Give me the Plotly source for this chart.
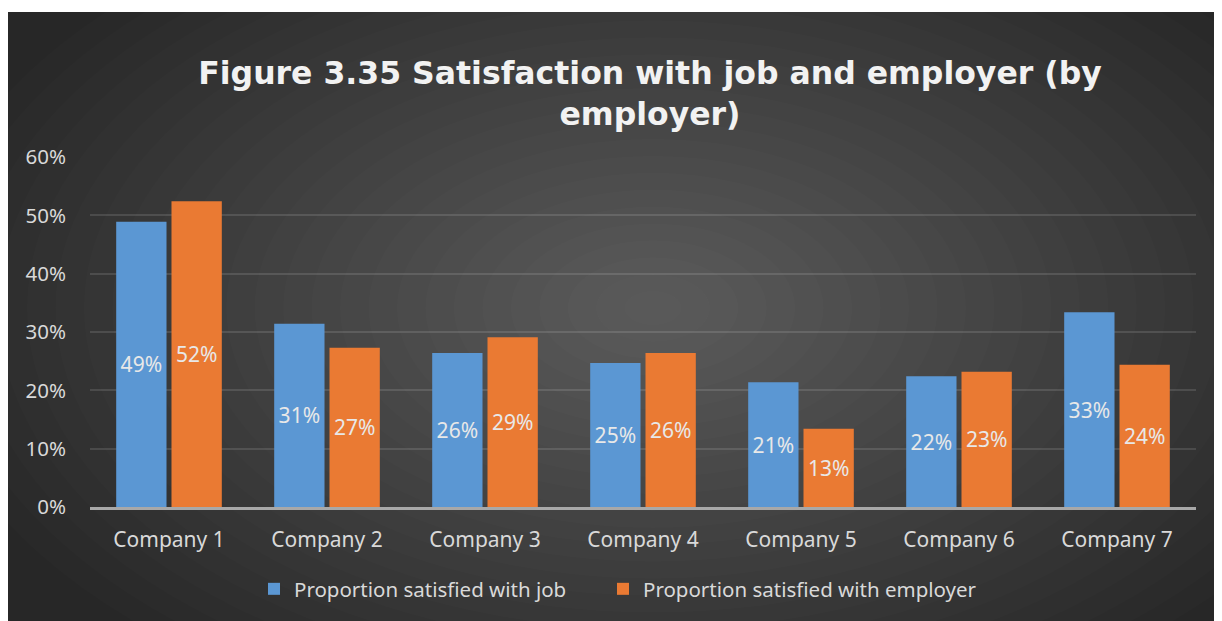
import plotly.graph_objects as go

categories = ["Company 1", "Company 2", "Company 3", "Company 4", "Company 5", "Company 6", "Company 7"]
job = [0.489, 0.314, 0.264, 0.247, 0.214, 0.224, 0.334]
employer = [0.524, 0.273, 0.291, 0.264, 0.134, 0.232, 0.244]
series_names = ["Proportion satisfied with job", "Proportion satisfied with employer"]
title_text = "Figure 3.35 Satisfaction with job and employer (by<br>employer)"
y_ticks = [0, 0.1, 0.2, 0.3, 0.4, 0.5, 0.6]

W, H = 1222, 621
ML, MR, MT, MB = 82, 34, 149, 122
PW, PH = W - ML - MR, H - MT - MB


def px(x):
    return (x - ML) / PW


def py(y):
    return (H - MB - y) / PH


FONT = "Noto Sans"
fig = go.Figure()
fig.add_trace(go.Bar(
    x=categories, y=job, name=series_names[0], legend="legend",
    marker=dict(color="#5b97d3", line=dict(width=0)),
    texttemplate="%{y:.0%}", textposition="inside", insidetextanchor="middle",
    textfont=dict(family=FONT, size=21, color="#e8e8e8"), textangle=0,
))
fig.add_trace(go.Bar(
    x=categories, y=employer, name=series_names[1], legend="legend2",
    marker=dict(color="#ea7a33", line=dict(width=0)),
    texttemplate="%{y:.0%}", textposition="inside", insidetextanchor="middle",
    textfont=dict(family=FONT, size=21, color="#e8e8e8"), textangle=0,
))

shapes = [dict(type="rect", xref="paper", yref="paper", layer="below",
               x0=px(0), x1=px(W + 5), y0=py(H + 5), y1=py(4),
               fillcolor="#272727", line=dict(width=0))]
cx, cy = 645, 300
N = 26
for i in range(N):
    f = 1 - i / N
    rx, ry = 740 * f, 440 * f
    shapes.append(dict(type="circle", xref="paper", yref="paper", layer="below",
                       x0=px(cx - rx), x1=px(cx + rx), y0=py(cy + ry), y1=py(cy - ry),
                       fillcolor="rgba(255,255,255,0.01)", line=dict(width=0)))

leg_common = dict(orientation="h", xanchor="left", y=py(581), yanchor="middle",
                  font=dict(family=FONT, size=20.5, color="#d9d9d9"), bgcolor="rgba(0,0,0,0)",
                  itemwidth=30)
fig.update_layout(
    width=W, height=H,
    margin=dict(l=ML, r=MR, t=MT, b=MB, autoexpand=False),
    paper_bgcolor="white", plot_bgcolor="rgba(0,0,0,0)",
    shapes=shapes,
    barmode="group", bargap=0.30, bargroupgap=0.09,
    title=dict(text=title_text, x=642 / W, xref="container", xanchor="center",
               y=1 - 76 / H, yref="container", yanchor="middle",
               font=dict(family="DejaVu Sans", size=31.5, color="#f2f2f2", weight="bold")),
    font=dict(family=FONT, color="#d9d9d9"),
    legend=dict(x=px(246), **leg_common),
    legend2=dict(x=px(595), **leg_common),
    showlegend=True,
)
fig.update_yaxes(range=[0, 0.6], tickvals=y_ticks, tickformat=".0%",
                 showgrid=True, gridcolor="rgba(255,255,255,0.12)", gridwidth=1.5,
                 zeroline=False, showline=False, ticks="",
                 tickfont=dict(family=FONT, size=20.5, color="#d9d9d9"), ticklabelstandoff=23)
fig.update_xaxes(showline=True, linecolor="#a8a8a8", linewidth=2.5, ticks="",
                 tickfont=dict(family=FONT, size=21, color="#d9d9d9"), ticklabelstandoff=12,
                 showgrid=False)

fig.write_html("out.html")
